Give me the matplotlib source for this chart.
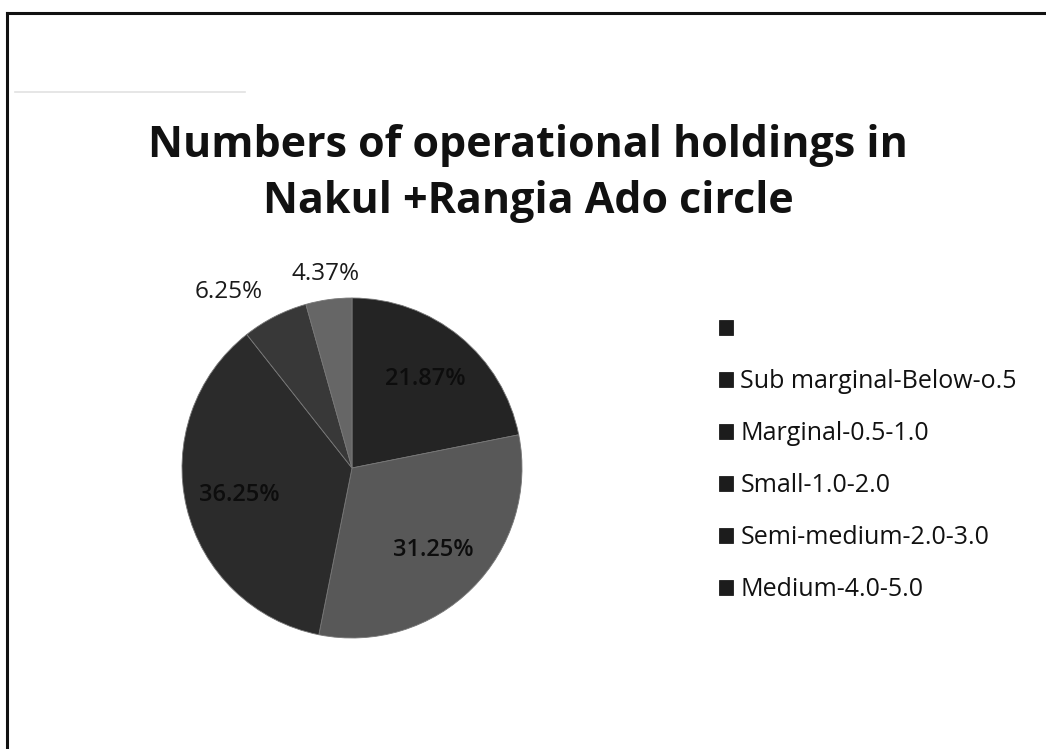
import numpy as np
import matplotlib.pyplot as plt
from matplotlib.lines import Line2D

categories = ["", "Sub marginal-Below-o.5", "Marginal-0.5-1.0", "Small-1.0-2.0",
              "Semi-medium-2.0-3.0", "Medium-4.0-5.0"]
shares = [0.0, 21.87, 31.25, 36.25, 6.25, 4.37]
pct_labels = ["", "21.87%", "31.25%", "36.25%", "6.25%", "4.37%"]
colors = ["#111111", "#242424", "#585858", "#2b2b2b", "#383838", "#666666"]

plt.rcParams['font.family'] = ['Open Sans', 'DejaVu Sans']

fig = plt.figure(figsize=(10.46, 7.49), dpi=100)

# frame lines of the scanned slide (top and left edge) and a faint scan line
fig.add_artist(Line2D([7/1046, 1.0], [1 - 13/749, 1 - 13/749], color="#111111", lw=2.2))
fig.add_artist(Line2D([7/1046, 7/1046], [0.0, 1 - 13/749], color="#111111", lw=2.2))
fig.add_artist(Line2D([15/1046, 245/1046], [1 - 92/749, 1 - 92/749], color="#e2e2e2", lw=1.2))

fig.text(0.505, 1 - 157/749, "Numbers of operational holdings in", ha="center",
         va="baseline", fontsize=31, fontweight="bold", color="#111111")
fig.text(0.505, 1 - 213/749, "Nakul +Rangia Ado circle", ha="center",
         va="baseline", fontsize=31, fontweight="bold", color="#111111")

ax = fig.add_axes([(352 - 170) / 1046, (749 - 468 - 170) / 749, 340 / 1046, 340 / 749])
wedges, _ = ax.pie(shares, colors=colors, startangle=90, counterclock=False,
                   radius=1.0, wedgeprops=dict(edgecolor="#777777", linewidth=0.6))
ax.set_xlim(-1, 1)
ax.set_ylim(-1, 1)
ax.set_aspect("auto")
ax.axis("off")

# percentage labels: big slices inside, small ones outside (best fit style)
for w, s, lab in zip(wedges, shares, pct_labels):
    if s <= 0:
        continue
    mid = np.deg2rad((w.theta1 + w.theta2) / 2)
    if s < 10:
        r = 1.16 if s > 5 else 1.15
        ha = "right" if s > 5 else "center"
        ax.text(r * np.cos(mid), r * np.sin(mid), lab, ha=ha, va="center",
                fontsize=17.5, color="#1a1a1a")
    else:
        ax.text(0.68 * np.cos(mid), 0.68 * np.sin(mid), lab, ha="center",
                va="center", fontsize=17, color="#0d0d0d", fontweight="semibold")

leg = fig.legend(wedges, categories, loc="upper left",
                 bbox_to_anchor=(719 / 1046, 1 - 317 / 749), frameon=False,
                 fontsize=18, handlelength=0.55, handleheight=0.55, handletextpad=0.3,
                 labelspacing=1.08, borderpad=0, borderaxespad=0)
for h in leg.legend_handles:
    h.set_facecolor("#1c1c1c")
    h.set_edgecolor("#1c1c1c")
for t in leg.get_texts():
    t.set_color("#111111")

fig.savefig("out.png", dpi=100, facecolor="white")
